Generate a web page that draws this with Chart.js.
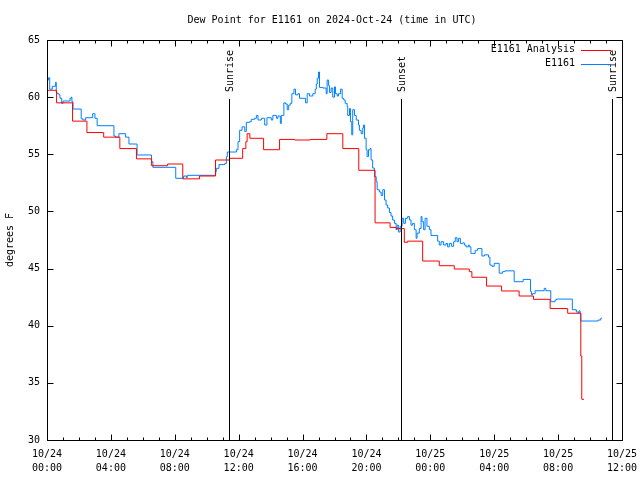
<!DOCTYPE html>
<html>
<head>
<meta charset="utf-8">
<script src="https://cdn.jsdelivr.net/npm/chart.js@4.4.1/dist/chart.umd.min.js"></script>
<style>
  html, body { margin: 0; padding: 0; background: #fff; }
  canvas { display: block; }
</style>
</head>
<body>
<canvas id="chart" width="640" height="480"></canvas>
<script>
const titleText = "Dew Point for E1161 on 2024-Oct-24 (time in UTC)";
const yTitle = "degrees F";

// x values are hours since 2024-10-24 00:00 UTC
const analysisHours = [0, 0.6, 1.6, 2.5, 3.55, 4.56, 5.6, 6.55, 7.55, 8.5, 9.55, 10.55, 11.42,
  12.25, 12.45, 12.53, 12.7, 13.56, 14.56, 15.5, 16.48, 17.52, 18.52, 19.52, 20.54, 21.48,
  21.86, 22.37, 22.58, 23.52, 24.56, 25.5, 26.44, 26.6, 27.52, 28.46, 29.56, 30.46, 31.5,
  32.6, 33.42, 33.48, 33.62];
const analysisValues = [60.6, 59.5, 57.9, 56.9, 56.5, 55.5, 54.6, 54.0, 54.15, 52.85, 53.1, 54.5, 54.65,
  55.5, 56.1, 56.8, 56.4, 55.4, 56.3, 56.25, 56.3, 56.8, 55.5, 53.6, 49.0, 48.6,
  48.5, 47.3, 47.4, 45.66, 45.25, 44.96, 44.73, 44.24, 43.47, 43.04, 42.6, 42.31, 41.5,
  41.09, 37.35, 33.56, 33.56];

const stationHours = [0, 0.1, 0.17, 0.33, 0.54, 0.58, 0.64, 0.75, 0.81, 0.92, 1.0, 1.44, 1.52, 1.56,
  1.63, 2.14, 2.25, 2.42, 2.86, 3.0, 3.14, 4.19, 4.29, 4.5, 4.92, 5.13, 5.64, 6.54, 6.63,
  8.06, 8.56, 8.73, 8.78, 10.56, 10.6, 10.77, 11.13, 11.23, 11.29, 11.86, 11.96, 12.06,
  12.21, 12.38, 12.48, 12.69, 12.79, 13.0, 13.11, 13.21, 13.42, 13.63, 13.77, 14.04, 14.14,
  14.36, 14.46, 14.61, 14.67, 14.83, 14.94, 15.04, 15.13, 15.23, 15.33, 15.46, 15.56, 15.71,
  15.81, 16.19, 16.29, 16.44, 16.64, 16.79, 16.86, 16.92, 17.0, 17.06, 17.27, 17.48, 17.54,
  17.63, 17.69, 17.79, 17.89, 18.0, 18.06, 18.17, 18.25, 18.38, 18.48, 18.58, 18.67, 18.79,
  18.83, 18.94, 19.0, 19.08, 19.14, 19.25, 19.36, 19.5, 19.56, 19.67, 19.77, 19.81, 19.88,
  19.98, 20.04, 20.13, 20.23, 20.29, 20.39, 20.5, 20.61, 20.67, 20.81, 20.92, 21.02, 21.13,
  21.23, 21.33, 21.44, 21.54, 21.64, 21.75, 21.86, 21.92, 22.0, 22.11, 22.23, 22.33, 22.44,
  22.58, 22.69, 22.79, 22.89, 23.0, 23.11, 23.17, 23.31, 23.42, 23.48, 23.58, 23.67, 23.79,
  23.94, 24.04, 24.46, 24.56, 24.67, 24.83, 24.98, 25.08, 25.19, 25.33, 25.46, 25.56, 25.67,
  25.77, 25.88, 26.02, 26.13, 26.23, 26.38, 26.44, 26.54, 26.81, 26.96, 27.23, 27.38, 27.64,
  27.73, 27.86, 28.0, 28.31, 28.52, 28.67, 29.25, 29.81, 30.27, 30.33, 30.39, 30.56, 31.13,
  31.23, 31.54, 31.81, 31.89, 32.89, 33.14, 33.27, 33.31, 33.38, 33.42, 34.5, 34.67, 34.72];
const stationValues = [61.5, 61.7, 60.7, 60.95, 61.3, 60.4, 60.3, 60.2, 59.9, 59.46, 59.66, 59.9, 60.0, 59.6,
  58.96, 58.1, 58.0, 58.2, 58.55, 58.15, 57.5, 56.6, 56.5, 56.8, 56.5, 55.9, 54.94, 54.35, 53.86,
  52.9, 53.1, 52.95, 53.16, 53.48, 53.77, 54.1, 54.2, 54.8, 55.2, 55.4, 56.1, 57.1,
  57.4, 57.0, 57.8, 57.85, 58.06, 58.15, 58.4, 58.0, 58.15, 57.56, 58.2, 58.0, 58.4,
  58.15, 58.35, 57.7, 58.4, 59.5, 59.4, 58.9, 59.3, 59.46, 60.3, 60.7, 60.2, 60.3,
  59.9, 59.5, 60.3, 60.1, 60.3, 60.7, 61.15, 61.65, 62.2, 60.85, 60.8, 60.3, 61.5,
  61.0, 60.4, 60.8, 60.0, 60.9, 60.3, 60.1, 60.3, 60.7, 59.9, 59.75, 59.46, 59.2,
  58.4, 59.0, 57.85, 56.7, 58.9, 58.4, 58.0, 57.56, 57.1, 56.8, 57.3, 57.56, 56.4,
  55.4, 54.8, 55.4, 55.5, 54.5, 53.8, 53.04, 52.6, 51.9, 51.7, 51.4, 51.9, 51.0,
  50.56, 50.3, 49.9, 49.6, 49.25, 48.96, 48.4, 48.8, 48.2, 48.7, 49.4, 48.96, 49.4,
  49.55, 49.25, 48.8, 48.96, 48.4, 47.65, 48.1, 48.5, 49.55, 49.1, 48.4, 49.4, 48.7,
  48.4, 47.9, 47.4, 47.06, 47.35, 47.06, 47.2, 46.9, 47.2, 46.95, 47.35, 47.7, 47.35,
  47.65, 47.2, 47.25, 47.06, 46.9, 47.06, 46.9, 46.33, 46.6, 46.75, 46.1, 46.2, 46.0,
  45.3, 45.2, 45.46, 44.6, 44.73, 44.8, 43.85, 44.05, 43.0, 42.7, 42.8, 43.06, 43.27,
  43.06, 42.1, 42.25, 42.33, 41.4, 41.2, 41.1, 41.3, 41.1, 40.41, 40.5, 40.65, 40.7];

const eventHours = [11.39, 22.14, 35.36];
const eventLabels = ["Sunrise", "Sunset", "Sunrise"];

const tickDates = ["10/24", "10/24", "10/24", "10/24", "10/24", "10/24", "10/25", "10/25", "10/25", "10/25"];
const tickTimes = ["00:00", "04:00", "08:00", "12:00", "16:00", "20:00", "00:00", "04:00", "08:00", "12:00"];

const FONT_FAMILY = "'DejaVu Sans Mono', monospace";
const FONT = "10px " + FONT_FAMILY;

Chart.defaults.font.family = FONT_FAMILY;
Chart.defaults.font.size = 10;
Chart.defaults.color = "#000";

// gnuplot-like frame: border, inward ticks, title, legend, sun events
const gnuplotFrame = {
  id: "gnuplotFrame",
  afterDatasetsDraw(chart) {
    const { ctx, chartArea: a, scales: { x, y } } = chart;
    const L = Math.round(a.left) + 0.5, R = Math.round(a.right) + 0.5;
    const T = Math.round(a.top) + 0.5, B = Math.round(a.bottom) + 0.5;
    ctx.save();
    ctx.strokeStyle = "#000";
    ctx.fillStyle = "#000";
    ctx.lineWidth = 1;
    ctx.font = FONT;

    eventHours.forEach((h, i) => {
      const px = Math.round(x.getPixelForValue(h)) + 0.5;
      ctx.beginPath();
      ctx.moveTo(px, a.top + 59);
      ctx.lineTo(px, B);
      ctx.stroke();
      ctx.save();
      ctx.translate(px + 1, a.top + 52);
      ctx.rotate(-Math.PI / 2);
      ctx.textAlign = "left";
      ctx.textBaseline = "middle";
      ctx.fillText(eventLabels[i], 0, 0);
      ctx.restore();
    });

    ctx.strokeRect(L, T, R - L, B - T);

    ctx.beginPath();
    for (let h = x.min; h <= x.max; h += 1) {
      const px = Math.round(x.getPixelForValue(h)) + 0.5;
      const len = h % 4 === 0 ? 6 : 3;
      ctx.moveTo(px, B); ctx.lineTo(px, B - len);
      ctx.moveTo(px, T); ctx.lineTo(px, T + len);
    }
    for (let v = y.min; v <= y.max; v += 5) {
      const py = Math.round(y.getPixelForValue(v)) + 0.5;
      ctx.moveTo(L, py); ctx.lineTo(L + 6, py);
      ctx.moveTo(R, py); ctx.lineTo(R - 6, py);
    }
    ctx.stroke();
    ctx.restore();
  },
  afterDraw(chart) {
    const { ctx, chartArea: a } = chart;
    ctx.save();
    ctx.fillStyle = "#000";
    ctx.font = FONT;
    ctx.textBaseline = "middle";
    ctx.textAlign = "center";
    ctx.fillText(titleText, 332, 20);

    ctx.save();
    ctx.translate(10, (a.top + a.bottom) / 2);
    ctx.rotate(-Math.PI / 2);
    ctx.fillText(yTitle, 0, 0);
    ctx.restore();

    ctx.textAlign = "right";
    chart.data.datasets.forEach((ds, i) => {
      const ly = a.top + 9.5 + i * 14;
      ctx.fillText(ds.label, 575, ly);
      ctx.strokeStyle = ds.borderColor;
      ctx.lineWidth = 1;
      ctx.beginPath();
      ctx.moveTo(581, Math.round(ly) + 0.5);
      ctx.lineTo(611, Math.round(ly) + 0.5);
      ctx.stroke();
    });
    ctx.restore();
  }
};

const toPoints = (hours, values) => hours.map((h, i) => ({ x: h, y: values[i] }));

new Chart(document.getElementById("chart"), {
  type: "line",
  data: {
    datasets: [
      {
        label: "E1161 Analysis",
        data: toPoints(analysisHours, analysisValues),
        borderColor: "#ff0000",
        borderWidth: 1,
        pointRadius: 0,
        stepped: "before",
        fill: false,
      },
      {
        label: "E1161",
        data: toPoints(stationHours, stationValues),
        borderColor: "#0080ff",
        borderWidth: 1,
        pointRadius: 0,
        stepped: "before",
        fill: false,
      },
    ],
  },
  options: {
    responsive: false,
    animation: false,
    devicePixelRatio: 1,
    layout: { padding: { top: 40, right: 18, left: 0, bottom: 0 } },
    plugins: {
      legend: { display: false },
      title: { display: false },
      tooltip: { enabled: false },
    },
    scales: {
      x: {
        type: "linear",
        min: 0,
        max: 36,
        grid: { display: false, drawTicks: false },
        border: { display: false },
        afterFit: (scale) => {
          scale.height = 40;
          scale.paddingLeft = 0;
          scale.paddingRight = 0;
        },
        ticks: {
          stepSize: 4,
          autoSkip: false,
          maxRotation: 0,
          padding: 7,
          font: { lineHeight: 1.4 },
          callback: (v) => [tickDates[v / 4], tickTimes[v / 4]],
        },
      },
      y: {
        min: 30,
        max: 65,
        grid: { display: false, drawTicks: false },
        border: { display: false },
        afterFit: (scale) => {
          scale.width = 47;
          scale.paddingTop = 0;
          scale.paddingBottom = 0;
        },
        ticks: {
          stepSize: 5,
          padding: 7,
          callback: (v) => v,
        },
      },
    },
  },
  plugins: [gnuplotFrame],
});
</script>
</body>
</html>
